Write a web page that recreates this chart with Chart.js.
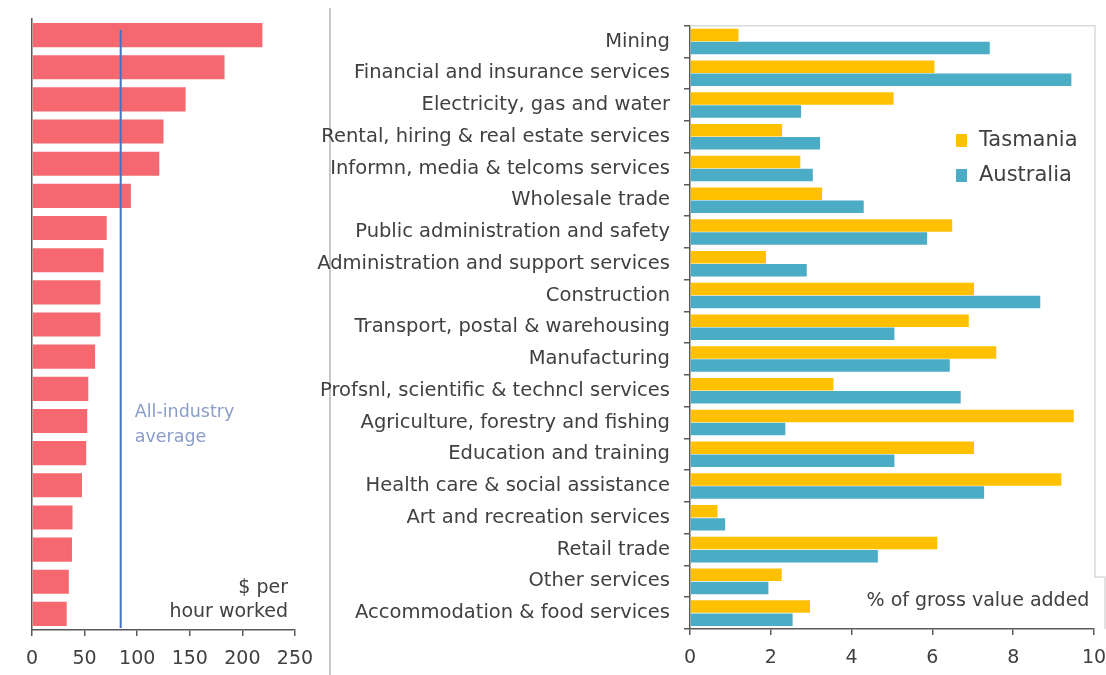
<!DOCTYPE html>
<html>
<head>
<meta charset="utf-8">
<script src="https://cdn.jsdelivr.net/npm/chart.js@4"></script>
<style>
  body { margin: 0; background: #fff; width: 1106px; height: 675px; overflow: hidden; position: relative; }
  #left { position: absolute; left: 0; top: 0; }
  #right { position: absolute; left: 300px; top: 0; }
  #sep { position: absolute; left: 329px; top: 8px; width: 2px; height: 667px; background: #c8c8c8; }
</style>
</head>
<body>
<div id="sep"></div>
<canvas id="left" width="330" height="675"></canvas>
<canvas id="right" width="806" height="675"></canvas>
<script>
const industries = [
  'Mining', 'Financial and insurance services', 'Electricity, gas and water',
  'Rental, hiring & real estate services', 'Informn, media & telcoms services',
  'Wholesale trade', 'Public administration and safety',
  'Administration and support services', 'Construction',
  'Transport, postal & warehousing', 'Manufacturing',
  'Profsnl, scientific & techncl services', 'Agriculture, forestry and fishing',
  'Education and training', 'Health care & social assistance',
  'Art and recreation services', 'Retail trade', 'Other services',
  'Accommodation & food services'
];
// $ per hour worked
const productivity = [219, 183, 146, 125, 121, 94, 71, 68, 65, 65, 60, 53.5, 52.5, 51.5, 47.5, 38.5, 38, 35, 33];
const allIndustryAverage = 84.3;
// % of gross value added
const tasmania = [1.2, 6.05, 5.04, 2.28, 2.73, 3.27, 6.49, 1.88, 7.03, 6.9, 7.58, 3.55, 9.5, 7.03, 9.19, 0.68, 6.12, 2.27, 2.97];
const australia = [7.42, 9.44, 2.75, 3.22, 3.04, 4.3, 5.87, 2.89, 8.67, 5.06, 6.43, 6.7, 2.36, 5.06, 7.28, 0.87, 4.65, 1.94, 2.54];
const leftTicks = [0, 250, 50];
const rightTicks = [0, 10, 2];

const FONT = '"DejaVu Sans", sans-serif';
const axisColor = '#595959';

const avgLine = {
  id: 'avgLine',
  afterDatasetsDraw(chart) {
    const { ctx, chartArea, scales } = chart;
    const x = scales.x.getPixelForValue(allIndustryAverage);
    ctx.save();
    ctx.strokeStyle = '#4472C4';
    ctx.lineWidth = 2;
    ctx.beginPath();
    ctx.moveTo(x, chartArea.top + 11);
    ctx.lineTo(x, chartArea.bottom - 2);
    ctx.stroke();
    ctx.font = '17.5px ' + FONT;
    ctx.fillStyle = '#8A9CC8';
    ctx.textBaseline = 'middle';
    ctx.fillText('All-industry', x + 14, 412);
    ctx.fillText('average', x + 14, 437);
    ctx.fillStyle = '#404040';
    ctx.font = '19px ' + FONT;
    ctx.textAlign = 'right';
    ctx.fillText('$ per', chartArea.right - 7, 588);
    ctx.fillText('hour worked', chartArea.right - 7, 612);
    ctx.restore();
  }
};

function noPad(s) {
  s.paddingLeft = 0;
  s.paddingRight = 0;
}

new Chart(document.getElementById('left'), {
  type: 'bar',
  data: {
    labels: industries,
    datasets: [{ label: '$ per hour worked', data: productivity, backgroundColor: '#F5686F', barPercentage: 0.75, categoryPercentage: 1 }]
  },
  options: {
    indexAxis: 'y',
    responsive: false,
    animation: false,
    layout: { padding: { left: 32, right: 35, top: 19, bottom: 0 } },
    plugins: { legend: { display: false }, tooltip: { enabled: false } },
    scales: {
      x: {
        min: leftTicks[0], max: leftTicks[1],
        ticks: { stepSize: leftTicks[2], color: '#404040', font: { family: FONT, size: 19 }, padding: 12 },
        grid: { drawOnChartArea: false, tickLength: 6, color: axisColor, lineWidth: 1.5 },
        border: { color: axisColor, width: 1.5 },
        afterFit(s) { s.height = 45; noPad(s); }
      },
      y: {
        ticks: { display: false },
        grid: { display: false },
        border: { color: axisColor, width: 1.5 },
        afterFit(s) { s.width = 0; }
      }
    }
  },
  plugins: [avgLine]
});

const rightExtras = {
  id: 'rightExtras',
  afterDraw(chart) {
    const { ctx, chartArea: a } = chart;
    ctx.save();
    // light frame on top and right, with the unit label box
    ctx.strokeStyle = '#d9d9d9';
    ctx.lineWidth = 1.5;
    ctx.beginPath();
    ctx.moveTo(a.left, a.top);
    ctx.lineTo(a.right + 1, a.top);
    ctx.lineTo(a.right + 1, 577);
    ctx.lineTo(a.right + 11, 577);
    ctx.lineTo(a.right + 11, a.bottom);
    ctx.stroke();
    ctx.fillStyle = '#404040';
    ctx.font = '19px ' + FONT;
    ctx.textAlign = 'center';
    ctx.textBaseline = 'middle';
    ctx.fillText('% of gross value added', 678, 601);
    // legend
    ctx.textAlign = 'left';
    ctx.font = '21px ' + FONT;
    chart.data.datasets.forEach((ds, i) => {
      const y = 140 + i * 35;
      ctx.fillStyle = ds.backgroundColor;
      ctx.fillRect(656, y - 6, 11, 13);
      ctx.fillStyle = '#404040';
      ctx.fillText(ds.label, 679, y + 1);
    });
    ctx.restore();
  }
};

new Chart(document.getElementById('right'), {
  type: 'bar',
  data: {
    labels: industries,
    datasets: [
      { label: 'Tasmania', data: tasmania, backgroundColor: '#FFC000', barPercentage: 0.96, categoryPercentage: 0.82 },
      { label: 'Australia', data: australia, backgroundColor: '#4BACC6', barPercentage: 0.96, categoryPercentage: 0.82 }
    ]
  },
  options: {
    indexAxis: 'y',
    responsive: false,
    animation: false,
    layout: { padding: { left: 0, right: 12, top: 23, bottom: 0 } },
    plugins: { legend: { display: false }, tooltip: { enabled: false } },
    scales: {
      x: {
        min: rightTicks[0], max: rightTicks[1],
        ticks: { stepSize: rightTicks[2], color: '#404040', font: { family: FONT, size: 19 }, padding: 12 },
        grid: { drawOnChartArea: false, tickLength: 6, color: axisColor, lineWidth: 1.5 },
        border: { color: axisColor, width: 1.5 },
        afterFit(s) { s.height = 46; noPad(s); }
      },
      y: {
        ticks: { color: '#404040', font: { family: FONT, size: 19.5 }, padding: 14, autoSkip: false },
        grid: { drawOnChartArea: false, tickLength: 6, color: axisColor, lineWidth: 1.5, offset: true },
        border: { color: axisColor, width: 1.5 },
        afterFit(s) { s.width = 390; }
      }
    }
  },
  plugins: [rightExtras]
});
</script>
</body>
</html>
